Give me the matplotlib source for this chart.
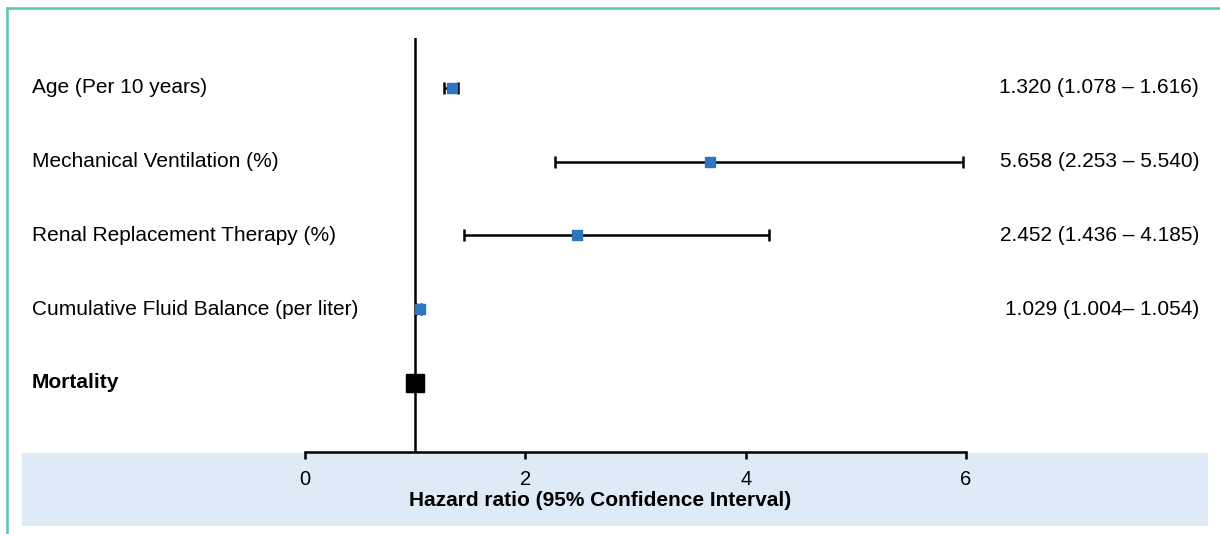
import matplotlib
matplotlib.use("Agg")
import matplotlib.pyplot as plt
import matplotlib.transforms as mtransforms
from matplotlib.patches import Rectangle
from matplotlib.lines import Line2D

# ---- data ----
labels = ["Age (Per 10 years)", "Mechanical Ventilation (%)",
          "Renal Replacement Therapy (%)", "Cumulative Fluid Balance (per liter)"]
ratio_text = ["1.320 (1.078 \u2013 1.616)", "5.658 (2.253 \u2013 5.540)",
              "2.452 (1.436 \u2013 4.185)", "1.029 (1.004\u2013 1.054)"]
# plotted values as drawn in the figure
hr = [1.33, 3.68, 2.47, 1.04]
lower = [1.26, 2.27, 1.44, 1.004]
upper = [1.39, 5.97, 4.21, 1.054]
summary_label = "Mortality"
summary_hr = 1.0
xticks = [0, 2, 4, 6]
xlabel = "Hazard ratio (95% Confidence Interval)"

W, H = 1220, 534
fig = plt.figure(figsize=(W / 100, H / 100), dpi=100)
plt.rcParams["font.family"] = ["Liberation Sans", "DejaVu Sans"]

def fx(px):
    return px / W

def fy(py):
    return (H - py) / H

# background band and border
fig.patches.append(Rectangle((fx(22), fy(526)), fx(1208) - fx(22), fy(453) - fy(526),
                             transform=fig.transFigure, facecolor="#deeaf5",
                             edgecolor="none", zorder=-5))
fig.lines.append(Line2D([fx(7), fx(7)], [0, fy(8)], transform=fig.transFigure,
                        color="#5fc4ae", lw=1.8))
fig.lines.append(Line2D([fx(7), 1], [fy(8), fy(8)], transform=fig.transFigure,
                        color="#5fc4ae", lw=1.8))

ax = fig.add_axes([fx(305), fy(452), fx(966) - fx(305), fy(38) - fy(452)])
ax.set_facecolor("none")

n = len(labels)
ypos = [n + 1 - i for i in range(n)]  # 5,4,3,2
ysum = 1
ax.set_xlim(0, 6)
ax.set_ylim(0.064, 5.678)

ax.axvline(1, color="black", lw=1.8, zorder=2)

xerr = [[h - l for h, l in zip(hr, lower)], [u - h for h, u in zip(hr, upper)]]
ax.errorbar(hr, ypos, xerr=xerr, fmt="none", ecolor="black", elinewidth=1.8,
            capsize=4, capthick=1.8, zorder=3, clip_on=False)
ax.plot(hr, ypos, "s", color="#2f74c0", markersize=7, zorder=4, clip_on=False)
ax.plot([summary_hr], [ysum], "s", color="black", markersize=13, zorder=4, clip_on=False)

tr = mtransforms.blended_transform_factory(fig.transFigure, ax.transData)
for y, lab, rt in zip(ypos, labels, ratio_text):
    ax.text(fx(32), y, lab, transform=tr, ha="left", va="center", fontsize=15)
    ax.text(fx(1199), y, rt, transform=tr, ha="right", va="center", fontsize=15)
ax.text(fx(32), ysum, summary_label, transform=tr, ha="left", va="center",
        fontsize=15, fontweight="bold")

for s in ["top", "right", "left"]:
    ax.spines[s].set_visible(False)
ax.spines["bottom"].set_linewidth(1.8)
ax.set_yticks([])
ax.set_xticks(xticks)
ax.set_xticklabels([str(t) for t in xticks])
ax.tick_params(axis="x", direction="out", length=5, width=1.8, pad=8,
               labelsize=14.5)

fig.text(fx(600), fy(500), xlabel, ha="center", va="center", fontsize=15,
         fontweight="bold")

fig.savefig("out.png", dpi=100)
